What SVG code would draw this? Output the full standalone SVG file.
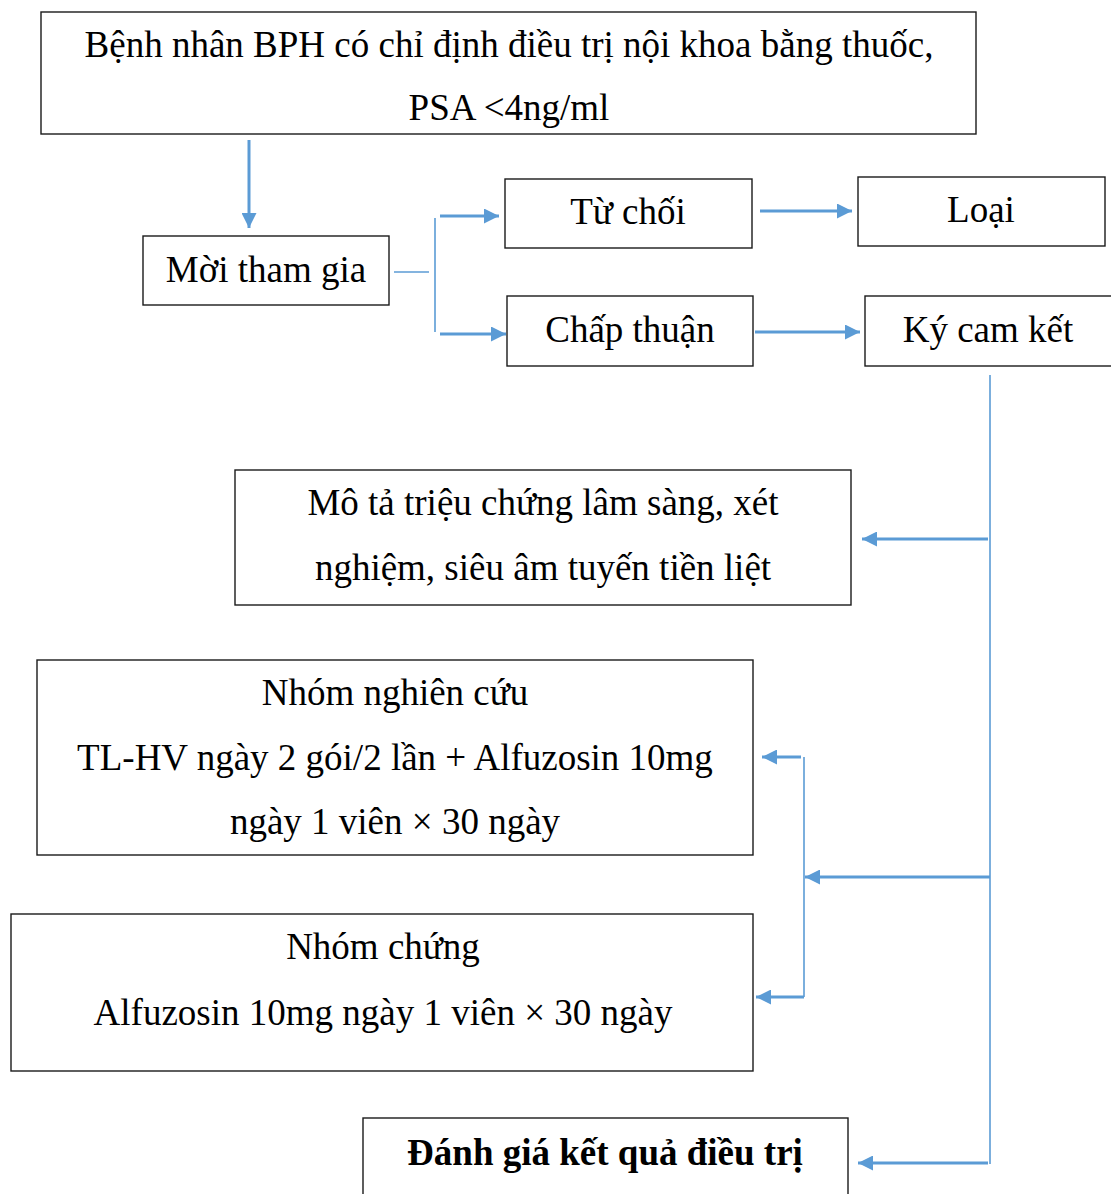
<svg xmlns="http://www.w3.org/2000/svg" width="1111" height="1194" viewBox="0 0 1111 1194">
  <style>
    .box { fill: #ffffff; stroke: #1a1a1a; stroke-width: 1.4; }
    .t { font-family: "Liberation Serif", "Times New Roman", serif; font-size: 37px; fill: #000; text-anchor: middle; }
    .b { font-weight: bold; }
    .ln { stroke: #5b9bd5; stroke-width: 1.6; fill: none; }
    .ar { stroke: #5b9bd5; stroke-width: 3; fill: none; }
  </style>
  <defs>
    <marker id="head" viewBox="0 0 10 10" refX="10" refY="5" markerWidth="5" markerHeight="5" markerUnits="strokeWidth" orient="auto">
      <path d="M0,0 L10,5 L0,10 z" fill="#5b9bd5"/>
    </marker>
  </defs>
  <rect width="1111" height="1194" fill="#ffffff"/>

  <g id="connectors">
    <line class="ar" x1="249" y1="140" x2="249" y2="228" marker-end="url(#head)"/>
    <line class="ln" x1="394" y1="272" x2="429" y2="272"/>
    <line class="ln" x1="435" y1="218" x2="435" y2="332"/>
    <line class="ar" x1="440" y1="216" x2="499" y2="216" marker-end="url(#head)"/>
    <line class="ar" x1="440" y1="334" x2="506" y2="334" marker-end="url(#head)"/>
    <line class="ar" x1="760" y1="211" x2="852" y2="211" marker-end="url(#head)"/>
    <line class="ar" x1="755" y1="332" x2="860" y2="332" marker-end="url(#head)"/>
    <line class="ln" x1="990" y1="375" x2="990" y2="1164"/>
    <line class="ar" x1="988" y1="539" x2="862" y2="539" marker-end="url(#head)"/>
    <line class="ar" x1="990" y1="877" x2="805" y2="877" marker-end="url(#head)"/>
    <line class="ln" x1="804" y1="757" x2="804" y2="997"/>
    <line class="ar" x1="801" y1="757" x2="762" y2="757" marker-end="url(#head)"/>
    <line class="ar" x1="804" y1="997" x2="756" y2="997" marker-end="url(#head)"/>
    <line class="ar" x1="988" y1="1163" x2="858" y2="1163" marker-end="url(#head)"/>
  </g>

  <g id="n-benh-nhan">
    <rect class="box" x="41" y="12" width="935" height="122"/>
    <text class="t" x="509" y="57">Bệnh nhân BPH có chỉ định điều trị nội khoa bằng thuốc,</text>
    <text class="t" x="509" y="120">PSA &lt;4ng/ml</text>
  </g>
  <g id="n-moi">
    <rect class="box" x="143" y="236" width="246" height="69"/>
    <text class="t" x="266" y="282">Mời tham gia</text>
  </g>
  <g id="n-tu-choi">
    <rect class="box" x="505" y="179" width="247" height="69"/>
    <text class="t" x="628" y="224">Từ chối</text>
  </g>
  <g id="n-loai">
    <rect class="box" x="858" y="177" width="247" height="69"/>
    <text class="t" x="981" y="222">Loại</text>
  </g>
  <g id="n-chap-thuan">
    <rect class="box" x="507" y="296" width="246" height="70"/>
    <text class="t" x="630" y="342">Chấp thuận</text>
  </g>
  <g id="n-ky">
    <rect class="box" x="865" y="296" width="250" height="70"/>
    <text class="t" x="988" y="342">Ký cam kết</text>
  </g>
  <g id="n-mo-ta">
    <rect class="box" x="235" y="470" width="616" height="135"/>
    <text class="t" x="543" y="515">Mô tả triệu chứng lâm sàng, xét</text>
    <text class="t" x="543" y="580">nghiệm, siêu âm tuyến tiền liệt</text>
  </g>
  <g id="n-nghien-cuu">
    <rect class="box" x="37" y="660" width="716" height="195"/>
    <text class="t" x="395" y="705">Nhóm nghiên cứu</text>
    <text class="t" x="395" y="770">TL-HV ngày 2 gói/2 lần + Alfuzosin 10mg</text>
    <text class="t" x="395" y="834">ngày 1 viên × 30 ngày</text>
  </g>
  <g id="n-chung">
    <rect class="box" x="11" y="914" width="742" height="157"/>
    <text class="t" x="383" y="959">Nhóm chứng</text>
    <text class="t" x="383" y="1025">Alfuzosin 10mg ngày 1 viên × 30 ngày</text>
  </g>
  <g id="n-danh-gia">
    <rect class="box" x="363" y="1118" width="485" height="100"/>
    <text class="t b" x="605" y="1165">Đánh giá kết quả điều trị</text>
  </g>
</svg>
